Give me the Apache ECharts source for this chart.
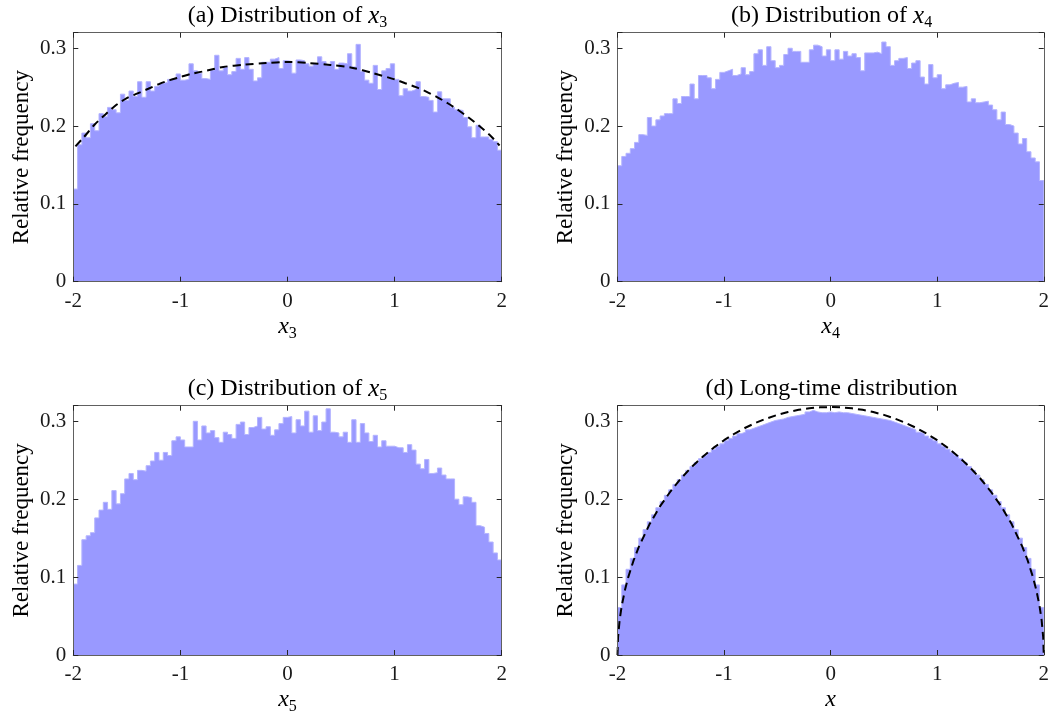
<!DOCTYPE html>
<html><head><meta charset="utf-8">
<script src="https://cdn.jsdelivr.net/npm/echarts@6/dist/echarts.min.js"></script>
<style>html,body{margin:0;padding:0;background:#fff}#c{width:1052px;height:717px}</style>
</head><body><div id="c"></div>
<script>
// ---------------- data ----------------
const binEdges = []; for (let i = 0; i <= 100; i++) binEdges.push(+(-2 + 0.04 * i).toFixed(2));
const xTicks = [-2, -1, 0, 1, 2];
const yTicks = [0, 0.1, 0.2, 0.3];

const x3Freq = [0.119,0.176,0.191,0.185,0.203,0.194,0.216,0.212,0.224,0.221,
 0.217,0.241,0.233,0.245,0.238,0.257,0.237,0.257,0.245,0.251,
 0.255,0.256,0.260,0.262,0.267,0.259,0.260,0.280,0.271,0.268,
 0.261,0.260,0.272,0.291,0.271,0.276,0.266,0.270,0.287,0.273,
 0.288,0.273,0.258,0.262,0.282,0.282,0.286,0.288,0.274,0.284,
 0.283,0.268,0.285,0.284,0.280,0.277,0.280,0.289,0.283,0.278,
 0.283,0.273,0.281,0.280,0.293,0.276,0.305,0.270,0.259,0.255,
 0.278,0.247,0.271,0.274,0.280,0.260,0.239,0.248,0.245,0.247,
 0.257,0.238,0.237,0.233,0.218,0.244,0.235,0.235,0.224,0.221,
 0.220,0.211,0.199,0.185,0.201,0.186,0.186,0.183,0.180,0.169];

const x4Freq = [0.149,0.161,0.165,0.171,0.179,0.189,0.188,0.211,0.200,0.208,
 0.213,0.216,0.216,0.235,0.229,0.238,0.238,0.254,0.235,0.265,
 0.265,0.262,0.248,0.260,0.269,0.271,0.273,0.265,0.267,0.275,
 0.266,0.270,0.293,0.298,0.278,0.302,0.284,0.275,0.278,0.292,
 0.300,0.296,0.296,0.282,0.282,0.298,0.304,0.302,0.290,0.298,
 0.284,0.298,0.286,0.296,0.290,0.293,0.288,0.271,0.294,0.294,
 0.295,0.293,0.308,0.302,0.278,0.284,0.287,0.288,0.274,0.281,
 0.284,0.263,0.254,0.279,0.262,0.266,0.248,0.253,0.255,0.256,
 0.250,0.251,0.231,0.235,0.230,0.231,0.232,0.227,0.221,0.208,
 0.218,0.202,0.200,0.191,0.177,0.184,0.167,0.159,0.154,0.130];

const x5Freq = [0.091,0.115,0.148,0.153,0.157,0.176,0.186,0.196,0.187,0.211,
 0.194,0.207,0.226,0.233,0.225,0.237,0.236,0.243,0.249,0.260,
 0.250,0.260,0.256,0.275,0.280,0.276,0.267,0.267,0.300,0.276,
 0.294,0.285,0.288,0.279,0.273,0.286,0.283,0.278,0.296,0.299,
 0.283,0.292,0.294,0.305,0.290,0.293,0.282,0.289,0.297,0.305,
 0.306,0.285,0.302,0.294,0.313,0.286,0.307,0.288,0.299,0.316,
 0.286,0.285,0.280,0.286,0.273,0.302,0.273,0.297,0.285,0.274,
 0.282,0.267,0.275,0.268,0.268,0.266,0.266,0.260,0.270,0.263,
 0.245,0.239,0.251,0.233,0.234,0.240,0.231,0.226,0.226,0.200,
 0.193,0.203,0.202,0.196,0.166,0.164,0.156,0.145,0.131,0.122];

const longFreq = [0.061,0.090,0.110,0.124,0.138,0.150,0.161,0.171,0.180,0.189,
 0.197,0.205,0.212,0.219,0.225,0.231,0.237,0.242,0.247,0.252,
 0.256,0.260,0.264,0.268,0.271,0.275,0.278,0.281,0.284,0.286,
 0.289,0.291,0.293,0.295,0.297,0.299,0.301,0.302,0.303,0.305,
 0.306,0.307,0.308,0.309,0.312,0.314,0.312,0.311,0.311,0.312,
 0.311,0.312,0.311,0.311,0.310,0.309,0.308,0.307,0.306,0.305,
 0.304,0.303,0.302,0.301,0.299,0.297,0.295,0.293,0.291,0.289,
 0.286,0.284,0.281,0.278,0.275,0.271,0.268,0.264,0.260,0.256,
 0.252,0.247,0.242,0.237,0.231,0.225,0.219,0.212,0.205,0.197,
 0.189,0.180,0.171,0.161,0.150,0.138,0.124,0.110,0.090,0.061];

const x3FitX = [-1.98,-1.9,-1.8,-1.7,-1.6,-1.5,-1.4,-1.3,-1.2,-1.1,-1.0,-0.9,-0.8,-0.7,-0.6,-0.4,-0.2,0,0.2,0.4,0.6,0.8,1.0,1.1,1.2,1.3,1.4,1.5,1.6,1.7,1.8,1.9,1.98];
const x3FitY = [0.174,0.186,0.202,0.215,0.227,0.236,0.242,0.248,0.254,0.259,0.263,0.267,0.270,0.273,0.276,0.279,0.281,0.2825,0.281,0.2785,0.275,0.268,0.260,0.255,0.250,0.244,0.237,0.229,0.220,0.210,0.199,0.187,0.175];

const semiX = [-2,-1.995,-1.98,-1.96,-1.93,-1.9,-1.85,-1.8,-1.7,-1.6,-1.5,-1.4,-1.3,-1.2,-1.1,-1.0,-0.9,-0.8,-0.7,-0.6,-0.5,-0.4,-0.3,-0.2,-0.1,0,
 0.1,0.2,0.3,0.4,0.5,0.6,0.7,0.8,0.9,1.0,1.1,1.2,1.3,1.4,1.5,1.6,1.7,1.8,1.85,1.9,1.93,1.96,1.98,1.995,2];
const semiY = [0,0.0225,0.0449,0.0633,0.0835,0.0994,0.121,0.1387,0.1677,0.1910,0.2105,0.2273,0.2419,0.2546,0.2658,0.2757,0.2843,0.2917,0.2982,0.3036,0.3082,0.3119,0.3147,0.3167,0.3179,0.3183,
 0.3179,0.3167,0.3147,0.3119,0.3082,0.3036,0.2982,0.2917,0.2843,0.2757,0.2658,0.2546,0.2419,0.2273,0.2105,0.1910,0.1677,0.1387,0.121,0.0994,0.0835,0.0633,0.0449,0.0225,0];

const panelTitles = ['(a) Distribution of ', '(b) Distribution of ', '(c) Distribution of ', '(d) Long-time distribution'];
const titleSubs = ['3', '4', '5', ''];
const xAxisSubs = ['3', '4', '5', ''];
const yAxisName = 'Relative frequency';
const freqs = [x3Freq, x4Freq, x5Freq, longFreq];
const fits = [[x3FitX, x3FitY], null, null, [semiX, semiY]];

// ---------------- layout / style ----------------
const FONT = 'Liberation Serif';
const gridBoxes = [
  {left: 73.3, top: 32.7, width: 428.4, height: 249},
  {left: 617.5, top: 32.7, width: 428.2, height: 249},
  {left: 73.3, top: 405.7, width: 428.4, height: 249.3},
  {left: 617.5, top: 405.7, width: 428.2, height: 249.3}
];
const titleTops = [1, 1, 374, 374];
const richTitle = {
  n: {fontFamily: FONT, fontSize: 24, fontWeight: 'normal', color: '#000', lineHeight: 30},
  i: {fontFamily: FONT, fontSize: 25, fontWeight: 'normal', fontStyle: 'italic', color: '#000', lineHeight: 30},
  s: {fontFamily: FONT, fontSize: 16, fontWeight: 'normal', color: '#000', lineHeight: 16, verticalAlign: 'bottom'}
};
const richName = {
  i: {fontFamily: FONT, fontSize: 24, fontWeight: 'normal', fontStyle: 'italic', color: '#000', lineHeight: 30},
  s: {fontFamily: FONT, fontSize: 16, fontWeight: 'normal', color: '#000', lineHeight: 16, verticalAlign: 'bottom'}
};
const axisLineStyle = {color: '#606060', width: 1};
const tickStyle = {show: true, inside: true, length: 5, lineStyle: {color: '#262626', width: 1}};

const titles = [], xAxes = [], yAxes = [], series = [];
for (let p = 0; p < 4; p++) {
  const g = gridBoxes[p];
  const t = titleSubs[p] ? `{n|${panelTitles[p]}}{i|x}{s|${titleSubs[p]}}` : `{n|${panelTitles[p]}}`;
  titles.push({text: t, left: g.left + g.width / 2, top: titleTops[p], textAlign: 'center', padding: 0,
    textStyle: {fontWeight: 'normal', rich: richTitle}});
  xAxes.push({gridIndex: p, type: 'value', min: -2, max: 2, interval: 1, position: 'bottom', z: 5,
    axisLine: {show: true, onZero: false, lineStyle: axisLineStyle}, axisTick: tickStyle,
    axisLabel: {fontFamily: FONT, fontSize: 21, color: '#1a1a1a', margin: 9,
      formatter: v => xTicks.indexOf(Math.round(v)) >= 0 ? String(Math.round(v)) : ''},
    splitLine: {show: false},
    name: xAxisSubs[p] ? `{i|x}{s|${xAxisSubs[p]}}` : '{i|x}', nameLocation: 'middle', nameGap: 30,
    nameTextStyle: {rich: richName}});
  xAxes.push({gridIndex: p, type: 'value', min: -2, max: 2, interval: 1, position: 'top', z: 5,
    axisLine: {show: true, onZero: false, lineStyle: axisLineStyle}, axisTick: tickStyle,
    axisLabel: {show: false}, splitLine: {show: false}});
  yAxes.push({gridIndex: p, type: 'value', min: 0, max: 0.32, interval: 0.1, position: 'left', z: 5,
    axisLine: {show: true, onZero: false, lineStyle: axisLineStyle}, axisTick: tickStyle,
    axisLabel: {fontFamily: FONT, fontSize: 21, color: '#1a1a1a', margin: 7,
      formatter: v => { const r = Math.round(v * 100) / 100; return yTicks.indexOf(r) >= 0 ? String(r) : ''; }},
    splitLine: {show: false},
    name: yAxisName, nameLocation: 'middle', nameGap: 40,
    nameTextStyle: {fontFamily: FONT, fontSize: 23, color: '#000'}});
  yAxes.push({gridIndex: p, type: 'value', min: 0, max: 0.32, interval: 0.1, position: 'right', z: 5,
    axisLine: {show: true, onZero: false, lineStyle: axisLineStyle}, axisTick: tickStyle,
    axisLabel: {show: false}, splitLine: {show: false}});

  const f = freqs[p];
  const stepData = f.map((v, i) => [binEdges[i], v]);
  stepData.push([binEdges[100], f[f.length - 1]]);
  series.push({type: 'line', xAxisIndex: 2 * p, yAxisIndex: 2 * p, step: 'end', symbol: 'none', silent: true,
    data: stepData, lineStyle: {color: '#b4b4ff', width: 1}, areaStyle: {color: '#9999ff', opacity: 1}, z: 2});
  if (fits[p]) {
    const [fx, fy] = fits[p];
    series.push({type: 'line', xAxisIndex: 2 * p, yAxisIndex: 2 * p, symbol: 'none', silent: true,
      smooth: p === 0 ? 0.3 : false,
      data: fx.map((x, i) => [x, fy[i]]),
      lineStyle: {color: '#000', width: 2, type: [8, 5]}, z: 3});
  }
}

const chart = echarts.init(document.getElementById('c'), null, {renderer: 'canvas'});
chart.setOption({
  animation: false,
  backgroundColor: '#fff',
  title: titles,
  grid: gridBoxes.map(g => Object.assign({containLabel: false}, g)),
  xAxis: xAxes,
  yAxis: yAxes,
  series: series
});
</script>
</body></html>
